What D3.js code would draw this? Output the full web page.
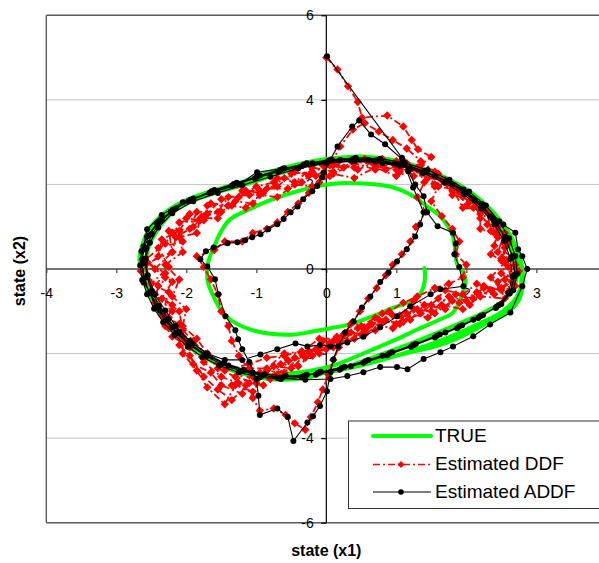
<!DOCTYPE html>
<html>
<head>
<meta charset="utf-8">
<script src="https://cdn.jsdelivr.net/npm/d3@7"></script>
<style>
  body { margin: 0; background: #fff; }
  text { font-family: "Liberation Sans", Arial, sans-serif; }
</style>
</head>
<body>
<svg id="chart" width="599" height="563"></svg>
<script>
// Axis ticks and gridlines
const xTicks = [-4, -3, -2, -1, 0, 1, 2, 3];
const yTicks = [-6, -4, -2, 0, 2, 4, 6];
const gridValues = [-4, -2, 2, 4];
const seriesNames = ["TRUE", "Estimated DDF", "Estimated ADDF"];

// True state trajectory (x1, x2): inner first loop spiralling out onto the limit cycle
const trueState = [
  [1.40,0.02],[1.41,-0.10],[1.39,-0.41],[1.30,-0.67],[1.16,-0.79],[0.91,-0.95],[0.63,-1.14],[0.34,-1.31],
  [0.06,-1.40],[-0.20,-1.48],[-0.45,-1.55],[-0.80,-1.53],[-1.09,-1.43],[-1.37,-1.20],[-1.51,-0.96],[-1.61,-0.65],
  [-1.69,-0.32],[-1.70,0.06],[-1.66,0.30],[-1.61,0.50],[-1.51,0.87],[-1.37,1.18],[-1.09,1.42],[-0.76,1.65],
  [-0.41,1.84],[-0.13,1.96],[0.20,2.03],[0.53,2.02],[0.91,1.95],[1.20,1.76],[1.44,1.48],[1.63,1.24],
  [1.74,1.00],[1.81,0.77],[1.84,0.47],[1.87,0.11],[1.96,-0.08],[1.99,-0.29],[1.91,-0.72],[1.81,-1.03],
  [1.63,-1.19],[1.30,-1.43],[1.01,-1.66],[0.67,-1.90],[0.34,-2.13],[0.06,-2.30],
  [-0.40,-2.45],[-0.90,-2.50],[-1.35,-2.33],[-1.75,-2.03],[-2.08,-1.58],[-2.33,-1.05],[-2.48,-0.55],[-2.57,-0.05],
  [-2.55,0.45],[-2.42,0.90],[-2.20,1.33],[-1.90,1.62],[-1.55,1.82],[-1.15,2.00],[-0.75,2.22],[-0.35,2.42],
  [0.05,2.55],[0.50,2.60],[0.95,2.52],[1.40,2.30],[1.80,2.00],[2.12,1.62],[2.38,1.18],[2.56,0.72],
  [2.68,0.25],[2.72,-0.20],[2.62,-0.60],[2.40,-0.90],[2.05,-1.18],[1.60,-1.50],[1.15,-1.80],[0.70,-2.07],
  [0.25,-2.33],[-0.25,-2.52],[-0.70,-2.58],[-1.10,-2.50],[-1.45,-2.32],[-1.75,-2.08],[-2.00,-1.78],[-2.22,-1.40],
  [-2.40,-0.98],[-2.53,-0.55],[-2.63,-0.12],[-2.66,0.25],[-2.60,0.65],[-2.48,1.00],[-2.28,1.33],[-1.98,1.62],
  [-1.60,1.86],[-1.20,2.06],[-0.80,2.30],[-0.40,2.48],[0.00,2.60],[0.50,2.66],[1.00,2.56],[1.50,2.31],
  [1.92,1.97],[2.24,1.58],[2.48,1.16],[2.66,0.70],[2.77,0.24],[2.81,-0.20],[2.76,-0.70],[2.60,-1.02],
  [2.32,-1.26],[1.95,-1.58],[1.58,-1.82],[1.20,-1.97],[0.80,-2.14],[0.42,-2.30],[0.05,-2.42],[-0.30,-2.58],
  [-0.68,-2.62],[-1.05,-2.54],[-1.38,-2.38],[-1.68,-2.14],[-1.95,-1.83],[-2.18,-1.44],[-2.37,-1.03],[-2.51,-0.63],
  [-2.61,-0.22],[-2.67,0.22],[-2.62,0.62],[-2.52,0.97],[-2.33,1.30],[-2.04,1.60],[-1.65,1.84],[-1.25,2.02],
  [-0.85,2.26],[-0.42,2.46],[0.00,2.58],[0.48,2.64],[0.98,2.55],[1.45,2.32],[1.88,1.99],[2.20,1.60],
  [2.45,1.15],[2.63,0.70],[2.74,0.25],[2.79,-0.20],[2.72,-0.66],[2.52,-1.00],[2.20,-1.28],[1.80,-1.58],
  [1.35,-1.86],[0.90,-2.10],[0.45,-2.30],[0.00,-2.45]
];

// DDF estimate (x1, x2)
const ddfEstimate = [
  [0.00,5.00],[0.16,4.72],[0.31,4.32],[0.45,3.95],[0.51,3.58],[0.87,3.63],[1.10,3.37],[1.22,3.05],
  [1.31,2.83],[1.50,2.65],[1.30,2.40],[1.40,2.05],[1.30,1.70],[1.42,1.35],[1.28,1.00],[1.20,0.65],
  [1.08,0.35],[0.95,0.10],[0.85,-0.15],[0.72,-0.45],[0.60,-0.70],[0.48,-1.00],[0.38,-1.25],[0.25,-1.55],
  [0.18,-1.85],[0.10,-2.15],[0.03,-2.50],[-0.05,-2.85],[-0.12,-3.15],[-0.22,-3.50],[-0.30,-3.80],[-0.45,-3.65],
  [-0.58,-3.45],[-0.75,-3.30],[-0.95,-3.35],[-1.05,-3.05],[-1.15,-2.75],[-1.10,-2.40],[-1.25,-2.05],[-1.35,-1.70],
  [-1.40,-1.35],[-1.50,-1.00],[-1.55,-0.60],[-1.65,-0.25],[-1.75,0.05],[-1.85,0.30],[-1.60,0.45],[-1.45,0.65],
  [-1.20,0.65],[-1.05,0.85],[-0.85,0.95],[-0.70,1.10],[-0.55,1.35],[-0.40,1.55],[-0.25,1.80],[-0.10,2.05],
  [0.05,2.45],[0.20,2.90],[0.38,3.30],[0.55,3.45],[0.75,3.25],[0.95,3.05],[1.15,2.85],[1.35,2.55],
  [1.55,2.30],[1.60,1.95],[1.50,1.60],[1.65,1.25],[1.80,0.95],[1.90,0.65],[1.85,0.35],[2.00,0.10],
  [1.95,-0.20],[1.75,-0.35],[1.55,-0.45],[1.30,-0.65],[1.10,-0.80],[0.90,-1.00],[0.70,-1.15],[0.50,-1.35],
  [0.30,-1.50],[0.10,-1.70],[-0.10,-1.85],[-0.35,-1.95],[-0.60,-2.05],[-0.85,-2.10],[-1.10,-2.25],
  [-1.45,-2.40],[-1.70,-2.05],[-1.90,-1.70],[-2.05,-1.45],[-2.10,-1.00],[-2.35,-0.70],[-2.20,-0.30],[-2.45,0.00],
  [-2.20,0.40],[-2.15,0.75],[-1.90,1.00],[-1.75,1.25],[-1.50,1.35],[-1.30,1.60],[-1.05,1.55],[-0.85,1.90],
  [-0.55,1.90],[-0.25,2.20],[0.05,2.20],[0.40,2.50],[0.70,2.35],[1.00,2.55],[1.25,2.20],[1.60,2.25],
  [1.80,1.75],[2.10,1.65],[2.20,1.20],[2.45,1.00],[2.40,0.55],[2.65,0.30],[2.50,-0.10],[2.70,-0.40],
  [2.35,-0.50],[2.10,-0.70],[1.85,-0.60],[1.70,-0.95],[1.40,-0.85],[1.20,-1.20],[0.95,-1.10],[0.70,-1.45],
  [0.45,-1.40],[0.20,-1.75],[-0.05,-1.70],[-0.30,-2.10],[-0.55,-2.15],[-0.80,-2.60],[-1.05,-2.55],[-1.20,-2.95],
  [-1.50,-2.75],[-1.65,-2.45],
  [-1.90,-2.25],[-2.00,-1.75],[-2.25,-1.40],[-2.20,-1.00],[-2.45,-0.60],[-2.30,-0.20],[-2.55,0.15],[-2.20,0.40],
  [-2.25,0.90],[-1.95,0.95],[-1.85,1.35],[-1.55,1.35],[-1.40,1.70],[-1.10,1.75],[-0.90,1.80],[-0.60,2.15],
  [-0.35,2.05],[-0.05,2.45],[0.25,2.40],[0.55,2.60],[0.85,2.35],[1.15,2.50],[1.45,2.15],[1.70,2.10],
  [1.95,1.70],[2.15,1.50],[2.30,1.05],[2.55,0.85],[2.45,0.40],[2.70,0.10],[2.55,-0.25],[2.60,-0.55],
  [2.25,-0.40],[2.05,-0.85],[1.80,-0.75],[1.55,-1.05],[1.30,-0.95],[1.05,-1.30],[0.85,-1.20],[0.55,-1.55],
  [0.35,-1.50],[0.10,-1.85],[-0.15,-1.90],[-0.40,-2.30],[-0.65,-2.25],[-0.90,-2.75],[-1.10,-2.70],[-1.35,-3.10],
  [-1.55,-2.85],[-1.75,-2.55],
  [-1.95,-2.05],[-2.10,-1.80],[-2.10,-1.30],[-2.35,-1.10],[-2.25,-0.55],[-2.50,-0.35],[-2.25,0.05],[-2.40,0.50],
  [-2.05,0.65],[-2.10,1.10],[-1.75,1.15],[-1.70,1.50],[-1.40,1.50],[-1.20,1.85],[-0.95,1.85],[-0.70,1.95],
  [-0.45,2.30],[-0.15,2.20],[0.15,2.50],[0.45,2.35],[0.80,2.60],[1.05,2.30],[1.35,2.45],[1.55,2.00],
  [1.85,1.95],[2.00,1.50],[2.30,1.35],[2.35,0.90],[2.60,0.65],[2.50,0.25],[2.75,-0.05],[2.45,-0.30],
  [2.55,-0.70],[2.20,-0.65],[1.95,-0.95],[1.65,-0.85],[1.45,-1.15],[1.15,-1.05],[0.95,-1.40],[0.65,-1.30],
  [0.40,-1.65],[0.15,-1.60],[-0.10,-2.00],[-0.35,-2.00],[-0.60,-2.45],[-0.85,-2.40],[-1.05,-2.90],[-1.30,-2.75],
  [-1.45,-3.20],[-1.70,-2.80],
  [-1.85,-2.40],[-2.05,-2.00],[-2.05,-1.60],[-2.30,-1.35],[-2.20,-0.85],[-2.50,-0.50],[-2.30,-0.10],[-2.60,0.20],
  [-2.30,0.60],[-2.20,0.85],[-2.00,1.20],[-1.80,1.15],[-1.65,1.55],[-1.35,1.50],[-1.15,1.85],[-0.95,1.80],
  [-0.70,2.15],[-0.45,2.05],[-0.20,2.40],[0.10,2.30],[0.40,2.55],[0.70,2.45],[1.00,2.35],[1.30,2.35],
  [1.55,2.20],[1.80,1.85],[2.05,1.60],[2.20,1.30],[2.40,1.15],[2.45,0.75],[2.55,0.50],[2.60,0.05],
  [2.65,-0.30],[2.40,-0.60],[2.15,-0.55],[1.90,-0.80],[1.60,-0.70],[1.35,-1.05],[1.10,-1.25],[0.80,-1.25],
  [0.55,-1.45],[0.30,-1.70],[0.05,-1.75],[-0.20,-2.05],[-0.45,-2.10],[-0.70,-2.50],[-0.95,-2.45],
  [-1.25,-2.70],[-1.50,-2.55],[-1.75,-2.20],[-1.95,-1.85],[-2.20,-1.60],[-2.25,-1.15],[-2.45,-0.80],[-2.40,-0.40],
  [-2.65,-0.05],[-2.40,0.30],[-2.35,0.70],[-2.10,0.90],[-1.95,1.30],[-1.70,1.30],[-1.50,1.65],[-1.25,1.70],
  [-1.00,1.95],[-0.75,2.05],[-0.50,2.25],[-0.20,2.30],[0.10,2.45],[0.40,2.40],[0.75,2.55],[1.05,2.40],
  [1.35,2.30],[1.65,2.10],[1.90,1.85],[2.10,1.45],[2.35,1.25],[2.40,0.85],[2.60,0.60],[2.50,0.20],
  [2.70,-0.15],[2.50,-0.45],[2.25,-0.45],[2.00,-0.75],[1.75,-0.65],[1.50,-1.00],[1.25,-0.95],[1.00,-1.30],
  [0.75,-1.20],[0.50,-1.55],[0.25,-1.55],[0.00,-1.90],[-0.25,-1.95],[-0.50,-2.35],[-0.75,-2.30],[-1.00,-2.70],
  [-1.30,-2.55],[-1.55,-2.35],[-1.70,-2.00],[-1.85,-1.65],[-2.05,-1.35],[-2.00,-0.95],[-2.20,-0.65],[-2.10,-0.25],
  [-2.30,0.10],[-2.05,0.40],[-2.10,0.75],[-1.85,0.85],[-1.80,1.20],[-1.55,1.20],[-1.40,1.50],[-1.15,1.45],
  [-0.95,1.75],[-0.70,1.70],[-0.45,2.00],[-0.20,1.95],[0.10,2.25],[0.40,2.15],[0.70,2.40],[1.00,2.20],
  [1.30,2.35],[1.55,1.95],[1.80,1.90],[1.95,1.45],[2.20,1.40],[2.20,0.95],[2.45,0.80],[2.35,0.35],
  [2.55,0.15],[2.35,-0.20],[2.50,-0.50],[2.15,-0.35],[1.95,-0.60],[1.70,-0.50],[1.50,-0.85],[1.25,-0.75],
  [1.05,-1.10],[0.80,-1.05],[0.60,-1.35],[0.35,-1.30],[0.15,-1.65],[-0.10,-1.65],[-0.35,-1.95],[-0.60,-2.00],
  [-0.85,-2.35],[-1.10,-2.35],[-1.35,-2.75]
];

// ADDF estimate (x1, x2)
const addfEstimate = [
  [0.01,5.03],[1.08,2.63],[1.24,1.93],[1.39,1.34],[1.34,1.05],[1.27,0.77],[1.15,0.47],[1.01,0.18],
  [0.89,-0.08],[0.77,-0.31],[0.63,-0.65],[0.51,-0.91],[0.39,-1.24],[0.27,-1.50],[0.17,-1.83],[0.10,-2.14],
  [0.06,-2.44],[0.01,-2.89],[-0.09,-3.24],[-0.19,-3.48],[-0.27,-3.63],[-0.47,-4.07],[-0.55,-3.50],[-0.70,-3.30],
  [-0.95,-3.45],[-0.97,-3.00],[-1.00,-2.60],[-1.10,-2.20],[-1.20,-1.90],[-1.26,-1.66],[-1.30,-1.45],[-1.44,-1.12],
  [-1.54,-0.60],[-1.59,-0.24],[-1.70,0.06],[-1.80,0.23],[-1.72,0.42],[-1.61,0.51],[-1.41,0.61],[-1.27,0.63],
  [-1.16,0.68],[-1.06,0.75],[-0.94,0.82],[-0.83,0.94],[-0.70,1.06],[-0.61,1.18],[-0.51,1.34],[-0.41,1.48],
  [-0.33,1.65],[-0.20,1.84],[-0.13,1.96],[-0.06,2.17],[-0.04,2.28],[0.16,2.90],[0.37,3.37],[0.47,3.51],
  [0.64,3.18],[0.84,2.95],[1.09,2.59],[1.17,2.31],[1.27,2.00],[1.39,1.72],[1.44,1.34],[1.59,1.01],
  [1.81,0.86],[1.85,0.60],[1.83,0.35],[1.90,0.05],[1.96,-0.41],[1.63,-0.48],[1.49,-0.60],[1.20,-0.88],
  [1.01,-1.12],[0.77,-1.38],[0.53,-1.60],[0.30,-1.74],[0.06,-1.83],[-0.09,-1.80],[-0.27,-1.83],[-0.44,-1.76],
  [-0.70,-1.90],[-0.94,-2.02],[-1.20,-2.15],[-1.45,-2.15],[-1.70,-2.00],[-1.95,-1.70],[-2.15,-1.35],[-2.30,-0.98],
  [-2.45,-0.60],[-2.55,-0.15],[-2.58,0.25],[-2.52,0.62],[-2.40,0.98],[-2.20,1.32],[-1.90,1.60],[-1.55,1.80],
  [-1.20,1.98],[-0.80,2.18],[-0.40,2.38],[0.00,2.50],[0.40,2.55],[0.80,2.50],[1.20,2.38],[1.55,2.20],
  [1.96,1.88],[2.23,1.53],[2.34,1.24],[2.53,1.05],[2.70,0.86],[2.74,0.47],[2.80,0.30],[2.87,0.00],
  [2.80,-0.41],[2.63,-1.03],[2.34,-1.31],[2.10,-1.59],[1.81,-1.83],[1.63,-1.97],[1.39,-2.13],[1.16,-2.37],
  [1.01,-2.32],[0.77,-2.32],[0.53,-2.44],[0.30,-2.53],[0.06,-2.60],[-0.30,-2.62],[-0.70,-2.58],[-1.05,-2.45],
  [-1.40,-2.28],[-1.70,-2.05],[-1.97,-1.75],[-2.20,-1.38],[-2.38,-0.98],[-2.52,-0.55],[-2.61,-0.32],[-2.63,0.23],
  [-2.61,0.54],[-2.56,0.94],[-2.35,1.28],[-2.05,1.58],[-1.65,1.80],[-1.25,2.00],[-0.99,2.29],[-0.60,2.38],
  [-0.20,2.50],[0.20,2.58],[0.60,2.58],[1.00,2.48],[1.40,2.30],[1.80,2.00],[2.12,1.62],[2.38,1.20],
  [2.55,0.75],[2.66,0.30],[2.70,-0.15],[2.62,-0.58],[2.42,-0.92],[2.10,-1.20],[1.70,-1.50],[1.25,-1.80],
  [0.80,-2.05],[0.35,-2.30],[-0.10,-2.45],
  [-0.32,-2.53],[-0.62,-2.56],[-0.92,-2.52],[-1.22,-2.41],[-1.50,-2.25],[-1.74,-2.04],[-1.95,-1.80],[-2.14,-1.52],
  [-2.30,-1.22],[-2.43,-0.90],[-2.53,-0.56],[-2.60,-0.22],[-2.63,0.12],[-2.61,0.46],[-2.53,0.80],[-2.39,1.12],
  [-2.19,1.40],[-1.94,1.64],[-1.64,1.84],[-1.32,2.01],[-0.99,2.18],[-0.66,2.34],[-0.32,2.47],[0.03,2.56],
  [0.38,2.60],[0.73,2.58],[1.08,2.48],[1.41,2.31],[1.72,2.08],[2.00,1.80],[2.24,1.47],[2.43,1.10],
  [2.57,0.70],[2.66,0.28],[2.69,-0.14],[2.63,-0.53],[2.46,-0.86],[2.20,-1.12],[1.90,-1.36],[1.58,-1.58],
  [1.24,-1.80],[0.90,-2.00],[0.56,-2.18],[0.22,-2.34],[-0.12,-2.46],
  [-0.28,-2.50],[-0.58,-2.53],[-0.88,-2.49],[-1.18,-2.38],[-1.46,-2.22],[-1.70,-2.01],[-1.91,-1.77],[-2.10,-1.49],
  [-2.26,-1.19],[-2.39,-0.87],[-2.49,-0.53],[-2.56,-0.19],[-2.59,0.15],[-2.57,0.49],[-2.49,0.83],[-2.35,1.15],
  [-2.15,1.43],[-1.90,1.67],[-1.60,1.87],[-1.28,2.04],[-0.95,2.21],[-0.62,2.37],[-0.28,2.50],[0.07,2.59],
  [0.42,2.63],[0.77,2.61],[1.12,2.51],[1.45,2.34],[1.76,2.11],[2.04,1.83],[2.28,1.50],[2.47,1.13],
  [2.61,0.73],[2.70,0.31],[2.73,-0.11],[2.67,-0.50],[2.50,-0.83],[2.24,-1.09],[1.94,-1.33],[1.62,-1.55],
  [1.28,-1.77],[0.94,-1.97],[0.60,-2.15],[0.26,-2.31],[-0.08,-2.43],
  [-0.35,-2.56],[-0.65,-2.60],[-0.95,-2.56],[-1.25,-2.45],[-1.53,-2.29],[-1.77,-2.08],[-1.98,-1.84],[-2.17,-1.56],
  [-2.33,-1.26],[-2.46,-0.94],[-2.56,-0.60],[-2.63,-0.26],[-2.66,0.08],[-2.64,0.42],[-2.56,0.76],[-2.42,1.08],
  [-2.22,1.36],[-1.97,1.60],[-1.67,1.80],[-1.35,1.97],[-1.02,2.14],[-0.69,2.30],[-0.35,2.43],[0.00,2.52],
  [0.35,2.56],[0.70,2.54],[1.05,2.44],[1.38,2.27],[1.69,2.04],[1.97,1.76],[2.21,1.43],[2.40,1.06],
  [2.54,0.66],[2.63,0.24],[2.66,-0.18],[2.60,-0.57],[2.43,-0.90],[2.17,-1.16],[1.87,-1.40],[1.55,-1.62],
  [1.21,-1.84],[0.87,-2.04],[0.53,-2.22],[0.19,-2.38],[-0.15,-2.50]
];

// ---- layout ----
const svg = d3.select("#chart");
const plot = { left: 46.3, right: 606.3, top: 15.3, bottom: 522.7 };
const x = d3.scaleLinear().domain([-4, 4]).range([plot.left, plot.right]);
const y = d3.scaleLinear().domain([-6, 6]).range([plot.bottom, plot.top]);

// horizontal gridlines
svg.append("g").selectAll("line").data(gridValues).join("line")
  .attr("x1", plot.left).attr("x2", plot.right)
  .attr("y1", d => y(d)).attr("y2", d => y(d))
  .attr("stroke", "#c4c4c4").attr("stroke-width", 1);

// plot frame (left, top, bottom edges)
const frame = svg.append("g").attr("stroke", "#5a5a5a").attr("stroke-width", 1.4).attr("fill", "none");
frame.append("line").attr("x1", plot.left).attr("x2", plot.left).attr("y1", plot.top).attr("y2", plot.bottom);
frame.append("line").attr("x1", plot.left).attr("x2", plot.right).attr("y1", plot.top).attr("y2", plot.top);
frame.append("line").attr("x1", plot.left).attr("x2", plot.right).attr("y1", plot.bottom).attr("y2", plot.bottom);

// x axis through x2 = 0
const xAxisG = svg.append("g").attr("transform", `translate(0,${y(0)})`)
  .call(d3.axisBottom(x).tickValues(xTicks).tickSize(4).tickPadding(15.5).tickFormat(d => String(d)));
xAxisG.select(".domain").remove();
xAxisG.append("line").attr("x1", plot.left).attr("x2", plot.right).attr("stroke", "#444").attr("stroke-width", 1.4);
xAxisG.selectAll(".tick line").attr("stroke", "#444").attr("stroke-width", 1.2);
xAxisG.selectAll("text").attr("font-size", 14).attr("fill", "#000")
  .attr("font-family", '"Liberation Sans", Arial, sans-serif');

// y axis through x1 = 0
const yAxisG = svg.append("g").attr("transform", `translate(${x(0)},0)`)
  .call(d3.axisLeft(y).tickValues(yTicks).tickSize(5).tickPadding(7.5).tickFormat(d => String(d)));
yAxisG.select(".domain").remove();
yAxisG.append("line").attr("y1", plot.top).attr("y2", plot.bottom).attr("stroke", "#000").attr("stroke-width", 1.2);
yAxisG.selectAll(".tick line").attr("stroke", "#000").attr("stroke-width", 1.2);
yAxisG.selectAll("text").attr("font-size", 14).attr("fill", "#000")
  .attr("font-family", '"Liberation Sans", Arial, sans-serif');

// axis titles
svg.append("text").attr("x", x(0)).attr("y", 556).attr("text-anchor", "middle")
  .attr("font-size", 16).attr("font-weight", "bold").text("state (x1)");
svg.append("text").attr("transform", `translate(25,271) rotate(-90)`).attr("text-anchor", "middle")
  .attr("font-size", 16).attr("font-weight", "bold").text("state (x2)");

// ---- series ----
const smooth = d3.line().x(d => x(d[0])).y(d => y(d[1])).curve(d3.curveCatmullRom.alpha(0.5));
const straight = d3.line().x(d => x(d[0])).y(d => y(d[1]));
const diamond = r => `M0,${-r}L${r},0L0,${r}L${-r},0Z`;

// TRUE
svg.append("path").datum(trueState).attr("d", smooth)
  .attr("fill", "none").attr("stroke", "#00ff00").attr("stroke-width", 4)
  .attr("stroke-linejoin", "round").attr("stroke-linecap", "round");

// Estimated DDF
svg.append("path").datum(ddfEstimate).attr("d", straight)
  .attr("fill", "none").attr("stroke", "#ff0000").attr("stroke-width", 1.8)
  .attr("stroke-dasharray", "7,3,2,3");
svg.append("g").selectAll("path").data(ddfEstimate).join("path")
  .attr("transform", d => `translate(${x(d[0])},${y(d[1])})`)
  .attr("d", diamond(4.2)).attr("fill", "#ff0000");

// Estimated ADDF
svg.append("path").datum(addfEstimate).attr("d", straight)
  .attr("fill", "none").attr("stroke", "#000").attr("stroke-width", 1.1);
svg.append("g").selectAll("circle").data(addfEstimate).join("circle")
  .attr("cx", d => x(d[0])).attr("cy", d => y(d[1])).attr("r", 3).attr("fill", "#000");

// ---- legend ----
const legend = svg.append("g");
legend.append("rect").attr("x", 348.5).attr("y", 421).attr("width", 270).attr("height", 87.5)
  .attr("fill", "#fff").attr("stroke", "#333").attr("stroke-width", 1);
const rows = [436, 464.5, 492];
const baselines = [441.7, 470, 498.3];
legend.append("line").attr("x1", 373).attr("x2", 431).attr("y1", rows[0]).attr("y2", rows[0])
  .attr("stroke", "#00ff00").attr("stroke-width", 4).attr("stroke-linecap", "round");
legend.append("line").attr("x1", 373).attr("x2", 431).attr("y1", rows[1]).attr("y2", rows[1])
  .attr("stroke", "#ff0000").attr("stroke-width", 1.6).attr("stroke-dasharray", "7,3,2,3");
legend.append("path").attr("transform", `translate(401,${rows[1]})`).attr("d", diamond(3.6)).attr("fill", "#ff0000");
legend.append("line").attr("x1", 373).attr("x2", 431).attr("y1", rows[2]).attr("y2", rows[2])
  .attr("stroke", "#000").attr("stroke-width", 1.1);
legend.append("circle").attr("cx", 401).attr("cy", rows[2]).attr("r", 2.8).attr("fill", "#000");
legend.selectAll("text.lbl").data(seriesNames).join("text").attr("class", "lbl")
  .attr("x", 435).attr("y", (d, i) => baselines[i]).attr("font-size", 19).attr("fill", "#000").text(d => d);
</script>
</body>
</html>
